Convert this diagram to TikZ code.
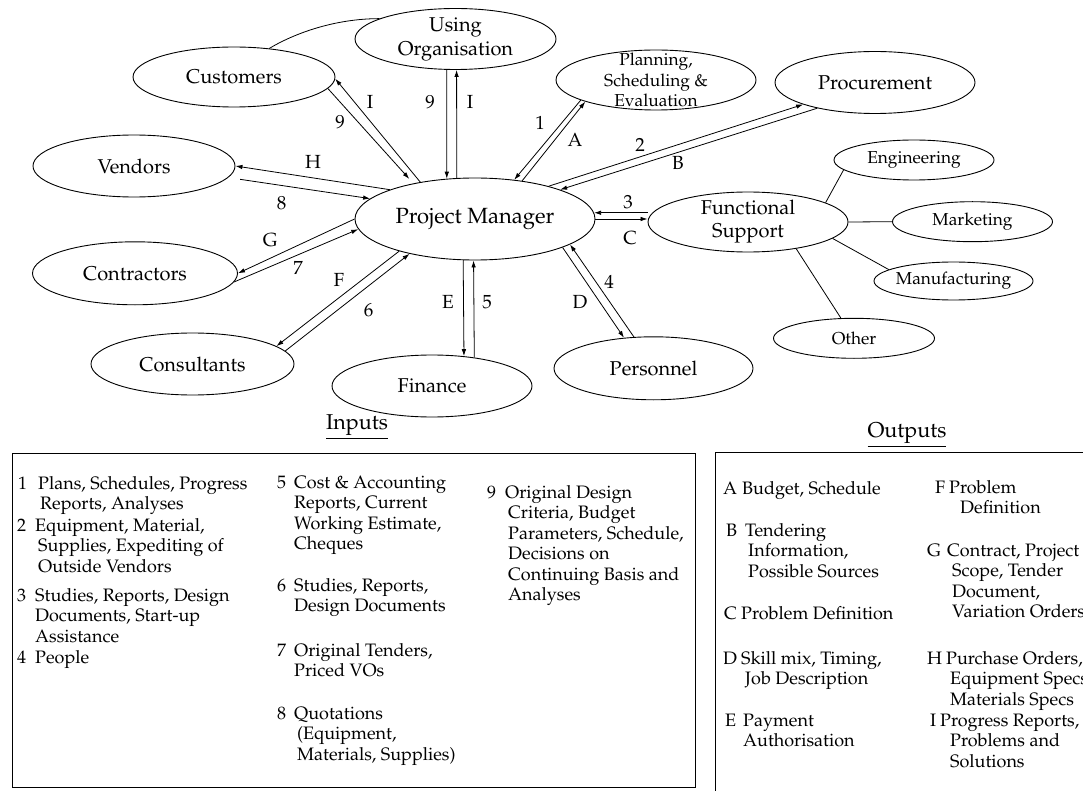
\documentclass[tikz,border=0pt]{standalone}
\usepackage[T1]{fontenc}
\usepackage{mathpazo}
\usetikzlibrary{arrows.meta,shapes.geometric}
\tikzset{
  ell/.style 2 args={draw, ellipse, line width=0.9pt, minimum width=#1, minimum height=#2, inner sep=0pt},
  big/.style={font=\fontsize{20}{24}\selectfont, align=center, inner sep=0pt},
  fsbig/.style={font=\fontsize{20}{23}\selectfont, align=center, inner sep=0pt},
  pmtext/.style={font=\fontsize{22}{26}\selectfont, inner sep=0pt},
  small/.style={font=\fontsize{17.3}{20.5}\selectfont, align=center, inner sep=0pt},
  arr/.style={-{Latex[length=7pt,width=4.5pt]}, line width=0.8pt},
  link/.style={line width=0.8pt},
  lab/.style={font=\fontsize{19}{22}\selectfont, inner sep=0pt},
  txt/.style={font=\fontsize{18}{20.5}\selectfont, inner sep=0pt, anchor=base west},
  head/.style={font=\fontsize{21.5}{24}\selectfont, inner sep=0pt},
  listbox/.style={line width=0.9pt},
}
% one numbered entry of a legend list: number and (multi-line) text
\newcommand\listentry[6]{%
  \node[txt] (#1n) at (#2,#4) {#5};
  \node[txt] (#1) at (#3,#4) {\begin{tabular}[t]{@{}l@{}}#6\end{tabular}};}
\begin{document}
\begin{tikzpicture}[x=1pt,y=-1pt]
\useasboundingbox (0,0) rectangle (1083,791);
\fill[white] (0,0) rectangle (1083,791);
\clip (0,0) rectangle (1083,791);

% ---- organisation units ----
\node[ell={240}{82}, label={[pmtext]center:Project Manager}] (pm) at (475,219) {};
\node[ell={201}{61}, label={[big]center:Using\\Organisation}] (uo) at (455.5,39) {};
\node[ell={202}{60}, label={[big]center:Customers}] (cust) at (234,77) {};
\node[ell={202}{62}, label={[big]center:Vendors}] (vend) at (134,166) {};
\node[ell={205}{63}, label={[big]center:Contractors}] (contr) at (135,273.3) {};
\node[ell={203}{62}, label={[big]center:Consultants}] (cons) at (192.5,364) {};
\node[ell={200}{62}, label={[big]center:Finance}] (fin) at (432,386) {};
\node[ell={199}{63}, label={[big]center:Personnel}] (pers) at (653.5,368.3) {};
\node[ell={200}{60}, label={[fsbig]center:Functional\\Support}] (fs) at (748,222) {};
\node[ell={200}{60}, label={[small]center:Planning,\\Scheduling \&\\Evaluation}] (plan) at (656,80) {};
\node[ell={200}{62}, label={[big]center:Procurement}] (proc) at (875,82.5) {};
\node[ell={160}{40}, label={[small]center:Engineering}] (eng) at (914,160) {};
\node[ell={160}{40}, label={[small]center:Marketing}] (mkt) at (972.5,221.7) {};
\node[ell={159}{38}, label={[small]center:Manufacturing}] (mfg) at (953.5,281) {};
\node[ell={161}{40}, label={[small]center:Other}] (oth) at (854,338.3) {};

% ---- flows to and from the project manager ----
\draw[arr, shorten >=6pt] (cust.-7.7) -- (pm.150.6);
\draw[arr] (pm.146.5) -- (cust.-1.7);
\draw[arr] (uo.-106.2) -- (pm.125.9);
\draw[arr] (pm.114.3) -- (uo.-88.9);
\draw[arr] (pm.161.4) -- (vend.-0.7);
\draw[arr, shorten <=12pt] (vend.-7.4) -- (pm.169.2);
\draw[arr] (pm.180) -- (contr.0.9);
\draw[arr] (contr.-5.8) -- (pm.-175.6);
\draw[arr] (pm.-157.1) -- (cons.12.4);
\draw[arr] (cons.8.9) -- (pm.-152.3);
\draw[arr] (pm.-106.4) -- (fin.43.6);
\draw[arr] (fin.34.2) -- (pm.-92.1);
\draw[arr] (pm.-18.9) -- (pers.134.3);
\draw[arr] (pers.122.3) -- (pm.-15.4);
\draw[arr] (fs.west |- pm.3.9) -- (pm.3.9);
\draw[arr] (pm.-0.5) -- (fs.west |- pm.-0.5);
\draw[arr] (plan.-165.8) -- (pm.45.7);
\draw[arr] (pm.39.4) -- (plan.-163.4);
\draw[arr] (proc.-156.4) -- (pm.19.4);
\draw[arr] (pm.24) -- (proc.-163.4);

% ---- plain links ----
\draw[link] (fs.14.9) -- (eng.-172.8);
\draw[link] (fs.east) -- (mkt.west);
\draw[link] (fs.-11.6) -- (mfg.170.9);
\draw[link] (fs.-29.5) -- (oth.123);
\draw[link] (cust.39.8) .. controls +(25,-15) and +(-45,0) .. (uo.165.9);

% ---- flow labels ----
\node[lab] (lcI) at (370,101.7) {I};
\node[lab] (lc9) at (340,121.7) {9};
\node[lab] (lu9) at (430,101.7) {9};
\node[lab] (luI) at (470,101.7) {I};
\node[lab] (lvH) at (313,161.7) {H};
\node[lab] (lv8) at (281.7,203.3) {8};
\node[lab] (lkG) at (270,240) {G};
\node[lab] (lk7) at (298,268.3) {7};
\node[lab] (lsF) at (339,280) {F};
\node[lab] (ls6) at (368.5,310) {6};
\node[lab] (lfE) at (448,301.7) {E};
\node[lab] (lf5) at (487,301.7) {5};
\node[lab] (lp4) at (609,281.7) {4};
\node[lab] (lpD) at (580,301.7) {D};
\node[lab] (lx3) at (628,202) {3};
\node[lab] (lxC) at (630,238) {C};
\node[lab] (ll1) at (540,123) {1};
\node[lab] (llA) at (575,140) {A};
\node[lab] (lr2) at (640,145) {2};
\node[lab] (lrB) at (678,163) {B};

% ---- legend ----
\node[head] (hin) at (357,427) {\underline{Inputs}};
\node[head] (hout) at (907,435) {\underline{Outputs}};
\draw[listbox] (12,453) rectangle (695,787);
\draw[listbox] (715,452) rectangle (1100,800);

\listentry{i1}{18}{38}{489}{1}{Plans, Schedules, Progress\\\hspace{2pt}Reports, Analyses}
\listentry{i2}{17}{35}{531}{2}{Equipment, Material,\\\hspace{3pt}Supplies, Expediting of\\\hspace{3pt}Outside Vendors}
\listentry{i3}{17}{35}{601}{3}{Studies, Reports, Design\\Documents, Start-up\\Assistance}
\listentry{i4}{17}{35}{663}{4}{People}
\listentry{i5}{277}{294}{488}{5}{Cost \& Accounting\\Reports, Current\\Working Estimate,\\Cheques}
\listentry{i6}{277}{294}{591}{6}{Studies, Reports,\\Design Documents}
\listentry{i7}{277}{294}{656}{7}{Original Tenders,\\Priced VOs}
\listentry{i8}{277}{294}{719}{8}{Quotations\\\hspace{3pt}(Equipment,\\\hspace{3pt}Materials, Supplies)}
\listentry{i9}{487}{505}{498}{9}{Original Design\\\hspace{3pt}Criteria, Budget\\\hspace{3pt}Parameters, Schedule,\\\hspace{3pt}Decisions on\\\hspace{3pt}Continuing Basis and\\\hspace{3pt}Analyses}

\listentry{oA}{723}{742}{494}{A}{Budget, Schedule}
\listentry{oB}{726}{745}{536}{B}{Tendering\\\hspace{3pt}Information,\\\hspace{3pt}Possible Sources}
\listentry{oC}{724}{741}{619}{C}{Problem Definition}
\listentry{oD}{723}{741}{664}{D}{Skill mix, Timing,\\\hspace{4pt}Job Description}
\listentry{oE}{725}{743}{726}{E}{Payment\\Authorisation}
\listentry{oF}{935}{949}{493}{F}{Problem\\\hspace{11pt}Definition}
\listentry{oG}{927}{947}{556}{G}{Contract, Project\\\hspace{5pt}Scope, Tender\\\hspace{5pt}Document,\\\hspace{5pt}Variation Orders}
\listentry{oH}{927}{946}{664}{H}{Purchase Orders,\\\hspace{4pt}Equipment Specs\\\hspace{4pt}Materials Specs}
\listentry{oI}{930}{940}{726}{I}{Progress Reports,\\\hspace{10pt}Problems and\\\hspace{10pt}Solutions}
\end{tikzpicture}
\end{document}
